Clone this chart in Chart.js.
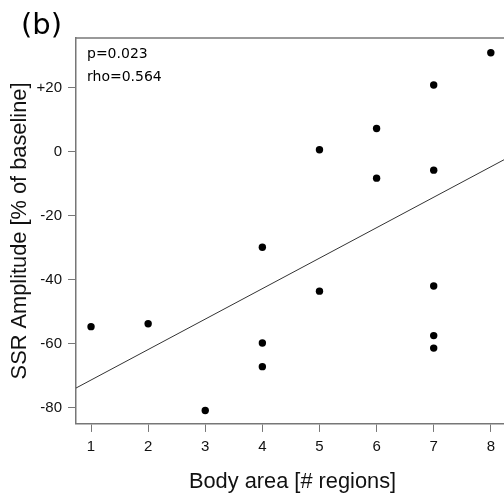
<!DOCTYPE html>
<html>
<head>
<meta charset="utf-8">
<script src="https://cdn.jsdelivr.net/npm/chart.js@4"></script>
<style>
  html, body { margin: 0; padding: 0; background: #fff; overflow: hidden; }
  #clip { width: 504px; height: 502px; overflow: hidden; position: relative; }
  #wrap { width: 585px; height: 502px; position: absolute; left: 0; top: 0; }
</style>
</head>
<body>
<div id="clip"><div id="wrap"><canvas id="scatter"></canvas></div></div>
<script>
// body area (# regions) vs SSR amplitude
var bodyArea = [1, 2, 3, 4, 4, 4, 5, 5, 6, 6, 7, 7, 7, 7, 7, 8];
var ssrAmp = [-54.6, -53.7, -80.8, -29.8, -59.7, -67.1, 0.7, -43.5, 7.3, -8.2, 20.9, -5.7, -41.9, -57.4, -61.3, 31.0];

// fitted line
var fitIntercept = -80.8;
var fitSlope = 9.52;

var xTicks = [1, 2, 3, 4, 5, 6, 7, 8];
var yTicks = [-80, -60, -40, -20, 0, 20];
// plot runs past the right edge of the picture (clipped)
var xRange = [0.737, 9.579];
var yRange = [-85, 35.6];

var statsText = ['p=0.023', 'rho=0.564'];
var panelLabel = '(b)';

var points = bodyArea.map(function(x, i) { return {x: x, y: ssrAmp[i]}; });
var fitLine = xRange.map(function(x) { return {x: x, y: fitIntercept + fitSlope * x}; });

var axisGray = '#777';
var titleFont = { family: '"Liberation Sans", Arial', size: 21.8 };
var tickFont = { family: '"Liberation Sans", Arial', size: 15 };

// top frame line + panel / stats text
var extras = {
    id: 'extras',
    afterDraw: function(chart) {
        var ctx = chart.ctx;
        var a = chart.chartArea;
        ctx.save();
        ctx.strokeStyle = axisGray;
        ctx.lineWidth = 1.5;
        ctx.beginPath();
        ctx.moveTo(a.left, a.top);
        ctx.lineTo(a.right, a.top);
        ctx.stroke();

        ctx.fillStyle = '#000';
        ctx.textBaseline = 'alphabetic';
        ctx.font = '29px "DejaVu Sans"';
        ctx.fillText(panelLabel, 21, 34);
        ctx.font = '14px "DejaVu Sans"';
        ctx.fillText(statsText[0], a.left + 11, 58);
        ctx.fillText(statsText[1], a.left + 11, 81);
        ctx.restore();
    }
};

var ctx = document.getElementById('scatter');
var myChart = new Chart(ctx, {
    type: 'scatter',
    data: {
        datasets: [{
            label: 'subjects',
            data: points,
            backgroundColor: '#000',
            borderWidth: 0,
            pointRadius: 3.7
        }, {
            label: 'fit',
            data: fitLine,
            showLine: true,
            borderColor: '#333',
            borderWidth: 1,
            pointRadius: 0
        }]
    },
    options: {
        responsive: true,
        maintainAspectRatio: false,
        animation: false,
        layout: { padding: { top: 38, right: 0, left: 0, bottom: 0 } },
        plugins: {
            legend: { display: false },
            tooltip: { enabled: false },
            // x axis title, centred on the whole figure like the original
            title: {
                display: true,
                position: 'bottom',
                text: 'Body area [# regions]',
                color: '#111',
                padding: { top: 0, bottom: 7 },
                font: { family: titleFont.family, size: titleFont.size, weight: 'normal' }
            }
        },
        scales: {
            x: {
                type: 'linear',
                min: xRange[0],
                max: xRange[1],
                afterFit: function(s) { s.height = 44.9; },
                afterBuildTicks: function(s) { s.ticks = xTicks.map(function(v) { return {value: v}; }); },
                grid: { drawOnChartArea: false, drawTicks: true, tickLength: 8, color: axisGray, lineWidth: 1 },
                border: { display: true, color: axisGray, width: 1.5 },
                ticks: { color: '#111', padding: 6, font: tickFont }
            },
            y: {
                type: 'linear',
                min: yRange[0],
                max: yRange[1],
                afterFit: function(s) { s.width = 76; },
                afterBuildTicks: function(s) { s.ticks = yTicks.map(function(v) { return {value: v}; }); },
                grid: { drawOnChartArea: false, drawTicks: true, tickLength: 8, color: axisGray, lineWidth: 1 },
                border: { display: true, color: axisGray, width: 1.5 },
                ticks: {
                    color: '#111',
                    padding: 6,
                    font: tickFont,
                    callback: function(v) { return v > 0 ? '+' + v : v; }
                },
                title: {
                    display: true,
                    text: 'SSR Amplitude [% of baseline]',
                    color: '#111',
                    padding: { top: 7 },
                    font: titleFont
                }
            }
        }
    },
    plugins: [extras]
});
</script>
</body>
</html>
